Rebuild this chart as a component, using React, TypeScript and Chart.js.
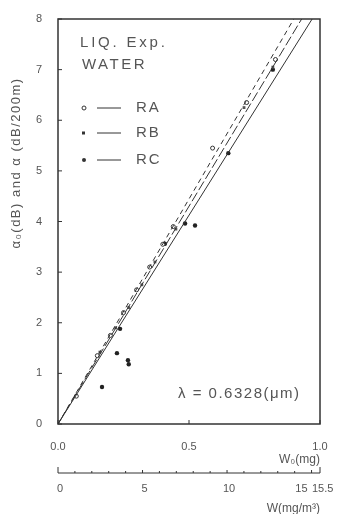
import React, { useEffect, useRef } from "react";
import { Chart, registerables } from "chart.js";
Chart.register(...registerables);

// RA: open circles, short-dashed fit line
const raX = [0.07, 0.15, 0.2, 0.25, 0.3, 0.35, 0.4, 0.44, 0.59, 0.72, 0.83];
const raY = [0.55, 1.35, 1.75, 2.2, 2.65, 3.1, 3.55, 3.9, 5.45, 6.35, 7.2];
// RB: small squares, long-dashed fit line
const rbX = [0.16, 0.22, 0.27, 0.32, 0.37, 0.45, 0.71, 0.82];
const rbY = [1.42, 1.9, 2.3, 2.75, 3.2, 3.85, 6.25, 7.05];
// RC: filled dots, solid fit line
const rcX = [0.168, 0.225, 0.267, 0.27, 0.237, 0.408, 0.485, 0.523, 0.65, 0.82];
const rcY = [0.73, 1.4, 1.26, 1.18, 1.88, 3.56, 3.96, 3.92, 5.35, 7.0];
// fit lines (start, end)
const raLineX = [0, 0.9];
const raLineY = [0, 8];
const rbLineX = [0, 0.93];
const rbLineY = [0, 8];
const rcLineX = [0, 0.97];
const rcLineY = [0, 8];

const yTicks = [0, 1, 2, 3, 4, 5, 6, 7, 8];
const xTicks = [0, 0.5, 1.0];
const x2Ticks = [0, 5, 10, 15, 15.5];
const x2Minor = [1, 2, 3, 4, 6, 7, 8, 9, 11, 12, 13, 14];

const FONT = "'Liberation Sans', Arial, sans-serif";
const INK = "#333";
const TXT = "#555";

const pts = (xs: number[], ys: number[]) => xs.map((x, i) => ({ x, y: ys[i] }));

const decor = {
  id: "decor",
  afterDraw(chart: any) {
    const { ctx, chartArea: a, scales } = chart;
    const xs = scales.x, ys = scales.y, x2 = scales.x2;
    ctx.save();
    // frame
    ctx.strokeStyle = INK;
    ctx.lineWidth = 1.5;
    ctx.strokeRect(a.left, a.top, a.right - a.left, a.bottom - a.top);
    // inward ticks
    ctx.lineWidth = 1;
    yTicks.forEach((v) => {
      const y = ys.getPixelForValue(v);
      ctx.beginPath(); ctx.moveTo(a.left, y); ctx.lineTo(a.left + 4, y); ctx.stroke();
    });
    xTicks.forEach((v) => {
      const x = xs.getPixelForValue(v);
      ctx.beginPath(); ctx.moveTo(x, a.bottom); ctx.lineTo(x, a.bottom - 4); ctx.stroke();
    });
    // secondary axis
    const ay = x2.top;
    const l = x2.getPixelForValue(0), r = x2.getPixelForValue(15.5);
    ctx.beginPath(); ctx.moveTo(l, ay); ctx.lineTo(r, ay); ctx.stroke();
    [0, 15.5].forEach((v) => {
      const x = x2.getPixelForValue(v);
      ctx.beginPath(); ctx.moveTo(x, ay); ctx.lineTo(x, ay - 6); ctx.stroke();
    });
    [5, 10, 15].forEach((v) => {
      const x = x2.getPixelForValue(v);
      ctx.beginPath(); ctx.moveTo(x, ay); ctx.lineTo(x, ay - 3); ctx.stroke();
    });
    x2Minor.forEach((v) => {
      const x = x2.getPixelForValue(v);
      ctx.beginPath(); ctx.moveTo(x, ay); ctx.lineTo(x, ay - 2); ctx.stroke();
    });
    ctx.fillStyle = TXT;
    ctx.font = `11px ${FONT}`;
    ctx.textBaseline = "middle";
    x2Ticks.forEach((v) => {
      const x = x2.getPixelForValue(v);
      if (v === 15) { ctx.textAlign = "right"; ctx.fillText("15", x - 4, ay + 16); }
      else if (v === 15.5) { ctx.textAlign = "left"; ctx.fillText("15.5", x - 8, ay + 16); }
      else { ctx.textAlign = "center"; ctx.fillText(String(v), x + 2, ay + 16); }
    });

    // annotations
    ctx.textAlign = "left";
    ctx.textBaseline = "alphabetic";
    ctx.font = `15px ${FONT}`;
    (ctx as any).letterSpacing = "2.8px";
    ctx.fillText("LIQ. Exp.", 80, 47);
    (ctx as any).letterSpacing = "2.5px";
    ctx.fillText("WATER", 82, 69);
    ctx.font = `15px ${FONT}`;
    (ctx as any).letterSpacing = "1.5px";
    ctx.fillText("λ = 0.6328(μm)", 178, 398);

    // legend
    const leg = [
      { t: "RA", y: 108, k: "open" },
      { t: "RB", y: 133, k: "sq" },
      { t: "RC", y: 160, k: "dot" },
    ];
    ctx.font = `15px ${FONT}`;
    (ctx as any).letterSpacing = "2px";
    leg.forEach((g) => {
      ctx.strokeStyle = INK;
      ctx.fillStyle = INK;
      ctx.lineWidth = 1;
      if (g.k === "open") { ctx.beginPath(); ctx.arc(84, g.y, 2, 0, Math.PI * 2); ctx.stroke(); }
      else if (g.k === "sq") { ctx.fillRect(82, g.y - 1.5, 3, 3); }
      else { ctx.beginPath(); ctx.arc(84, g.y, 2, 0, Math.PI * 2); ctx.fill(); }
      ctx.beginPath(); ctx.moveTo(97, g.y); ctx.lineTo(121, g.y); ctx.stroke();
      ctx.fillStyle = TXT;
      ctx.textBaseline = "middle";
      ctx.fillText(g.t, 136, g.y);
    });

    // y title
    ctx.translate(16, 163);
    ctx.rotate(-Math.PI / 2);
    ctx.textAlign = "center";
    ctx.textBaseline = "middle";
    ctx.font = `13px ${FONT}`;
    (ctx as any).letterSpacing = "1.5px";
    ctx.fillText("α₀(dB) and α (dB/200m)", 0, 0);
    ctx.restore();
  },
};

export default function App() {
  const ref = useRef<HTMLCanvasElement>(null);
  useEffect(() => {
    const lineDs = (xs: number[], ys: number[], dash: number[]) => ({
      type: "line" as const,
      data: pts(xs, ys),
      borderColor: INK,
      borderWidth: 1,
      borderDash: dash,
      pointRadius: 0,
      fill: false,
      xAxisID: "x",
      yAxisID: "y",
    });
    const chart = new Chart(ref.current!, {
      type: "scatter",
      data: {
        datasets: [
          lineDs(raLineX, raLineY, [5, 4]),
          lineDs(rbLineX, rbLineY, [10, 3]),
          lineDs(rcLineX, rcLineY, []),
          { data: pts(raX, raY), pointStyle: "circle", pointRadius: 2, backgroundColor: "#fff", borderColor: INK, borderWidth: 1, xAxisID: "x" },
          { data: pts(rbX, rbY), pointStyle: "rect", pointRadius: 2, backgroundColor: "#555", borderColor: "#555", borderWidth: 0, xAxisID: "x" },
          { data: pts(rcX, rcY), pointStyle: "circle", pointRadius: 2.2, backgroundColor: "#222", borderColor: "#222", borderWidth: 0, xAxisID: "x" },
        ] as any,
      },
      options: {
        responsive: false,
        animation: false,
        devicePixelRatio: 1,
        layout: { padding: { top: 19, right: 22, left: 0, bottom: 0 } },
        plugins: { legend: { display: false }, tooltip: { enabled: false } },
        scales: {
          x: {
            type: "linear", position: "bottom", min: 0, max: 1, weight: 0,
            afterBuildTicks: (s: any) => { s.ticks = xTicks.map((v) => ({ value: v })); },
            afterFit: (s: any) => { s.height = 49; },
            grid: { display: false }, border: { display: false },
            ticks: { color: TXT, font: { family: FONT, size: 11 }, padding: 8, autoSkip: false, maxRotation: 0, callback: (v: any) => Number(v).toFixed(1) },
            title: { display: true, text: "W₀(mg)", align: "end", color: TXT, font: { family: FONT, size: 12 }, padding: { top: 0, bottom: 6 } },
          },
          x2: {
            type: "linear", position: "bottom", min: 0, max: 15.5, weight: 1,
            afterFit: (s: any) => { s.height = 41; },
            grid: { display: false }, border: { display: false },
            ticks: { display: false },
            title: { display: true, text: "W(mg/m³)", align: "end", color: TXT, font: { family: FONT, size: 12 }, padding: { top: 0, bottom: -2 } },
          },
          y: {
            type: "linear", min: 0, max: 8,
            afterBuildTicks: (s: any) => { s.ticks = yTicks.map((v) => ({ value: v })); },
            afterFit: (s: any) => { s.width = 58; },
            grid: { display: false }, border: { display: false },
            ticks: { color: TXT, font: { family: FONT, size: 11 }, padding: 8 },
          },
        },
      } as any,
      plugins: [decor],
    });
    return () => chart.destroy();
  }, []);
  return (
    <div style={{ position: "fixed", left: 0, top: 0, width: 342, height: 514, background: "#fff" }}>
      <canvas ref={ref} width={342} height={514} style={{ width: 342, height: 514, display: "block" }} />
    </div>
  );
}
